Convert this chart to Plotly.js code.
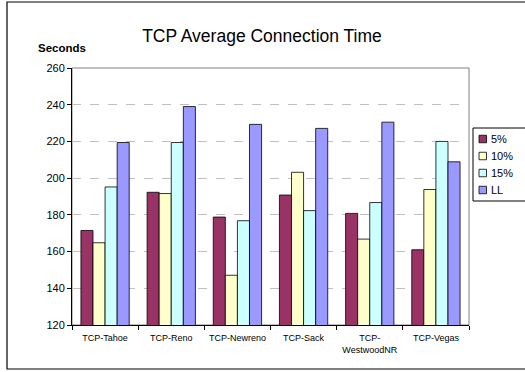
<!DOCTYPE html>
<html>
<head>
<meta charset="utf-8">
<script src="https://cdn.plot.ly/plotly-3.0.1.min.js"></script>
<style>html,body{margin:0;padding:0;background:#fff;}#chart{width:525px;height:372px;}</style>
</head>
<body>
<div id="chart"></div>
<script>
const categories = ["TCP-Tahoe", "TCP-Reno", "TCP-Newreno", "TCP-Sack", "TCP-<br>WestwoodNR", "TCP-Vegas"];
const seriesNames = ["5%", "10%", "15%", "LL"];
const values5 = [171.5, 192.3, 178.8, 190.8, 180.8, 161.0];
const values10 = [164.8, 191.6, 147.1, 203.2, 166.8, 193.8];
const values15 = [195.2, 219.4, 176.8, 182.3, 186.7, 220.0];
const valuesLL = [219.4, 239.0, 229.3, 227.1, 230.5, 208.9];
const yTicks = [120, 140, 160, 180, 200, 220, 240, 260];

const allValues = [values5, values10, values15, valuesLL];
const colors = ["#993366", "#FFFFCC", "#CCFFFF", "#9999FF"];
const FONT = "Liberation Sans, Arial, sans-serif";

// plot-area geometry (pixels) for placing paper-referenced decorations
const M = {l: 72, r: 56, t: 68, b: 47};
const PW = 525 - M.l - M.r, PH = 372 - M.t - M.b;
const px = x => (x - M.l) / PW;
const py = y => (372 - M.b - y) / PH;

const traces = seriesNames.map((name, i) => ({
  type: "bar",
  name: name,
  x: categories,
  y: allValues[i],
  marker: {color: colors[i], line: {color: "#000000", width: 0.8}},
  hoverinfo: "skip"
}));

const shapes = [
  {type: "rect", xref: "paper", yref: "paper", x0: 0, x1: 1, y0: 0, y1: 1,
   line: {color: "#808080", width: 1}, layer: "below"},
  {type: "rect", xref: "paper", yref: "paper",
   x0: px(7), x1: px(560), y0: py(369), y1: py(2),
   line: {color: "#000000", width: 1.2}, fillcolor: "rgba(0,0,0,0)", layer: "below"},
  {type: "rect", xref: "paper", yref: "paper",
   x0: px(473), x1: px(560), y0: py(201), y1: py(128),
   line: {color: "#000000", width: 1}, fillcolor: "#ffffff", layer: "above"}
];
const annotations = [{
  text: "<b>Seconds</b>", xref: "paper", yref: "paper",
  x: px(62), y: py(48), xanchor: "center", yanchor: "middle",
  showarrow: false, font: {size: 11.5, family: FONT}
}];
const legendY = [139, 156, 173, 190];
seriesNames.forEach((name, i) => {
  shapes.push({type: "rect", xref: "paper", yref: "paper",
    x0: px(479), x1: px(486.5), y0: py(legendY[i] + 3.75), y1: py(legendY[i] - 3.75),
    line: {color: "#000000", width: 0.8}, fillcolor: colors[i], layer: "above"});
  annotations.push({text: name, xref: "paper", yref: "paper",
    x: px(489), y: py(legendY[i]), xanchor: "left", yanchor: "middle",
    showarrow: false, font: {size: 11, family: FONT}});
});

const layout = {
  width: 525, height: 372,
  margin: {l: M.l, r: M.r, t: M.t, b: M.b, autoexpand: false},
  paper_bgcolor: "#ffffff", plot_bgcolor: "#ffffff",
  font: {family: FONT, color: "#000000"},
  title: {text: "TCP Average Connection Time", font: {size: 17.5, family: FONT},
          x: 262/525, xanchor: "center", y: 1 - 36/372, yanchor: "middle"},
  barmode: "group", bargap: 0.27, bargroupgap: 0,
  showlegend: false,
  xaxis: {
    type: "category", showgrid: false, zeroline: false,
    showline: true, linecolor: "#000000", linewidth: 1,
    ticks: "outside", tickson: "boundaries", ticklen: 4, tickcolor: "#000000",
    tickfont: {size: 9, family: FONT}, ticklabelstandoff: 4,
    fixedrange: true
  },
  yaxis: {
    range: [120, 260], tickvals: yTicks, ticktext: yTicks.map(String),
    showgrid: true, gridcolor: "#c0c0c0", griddash: "dash", gridwidth: 1,
    zeroline: false, showline: true, linecolor: "#000000", linewidth: 1,
    ticks: "outside", ticklen: 4, tickcolor: "#000000",
    tickfont: {size: 11, family: FONT},
    fixedrange: true
  },
  annotations: annotations,
  shapes: shapes
};

Plotly.newPlot("chart", traces, layout, {displayModeBar: false, staticPlot: true});
</script>
</body>
</html>
